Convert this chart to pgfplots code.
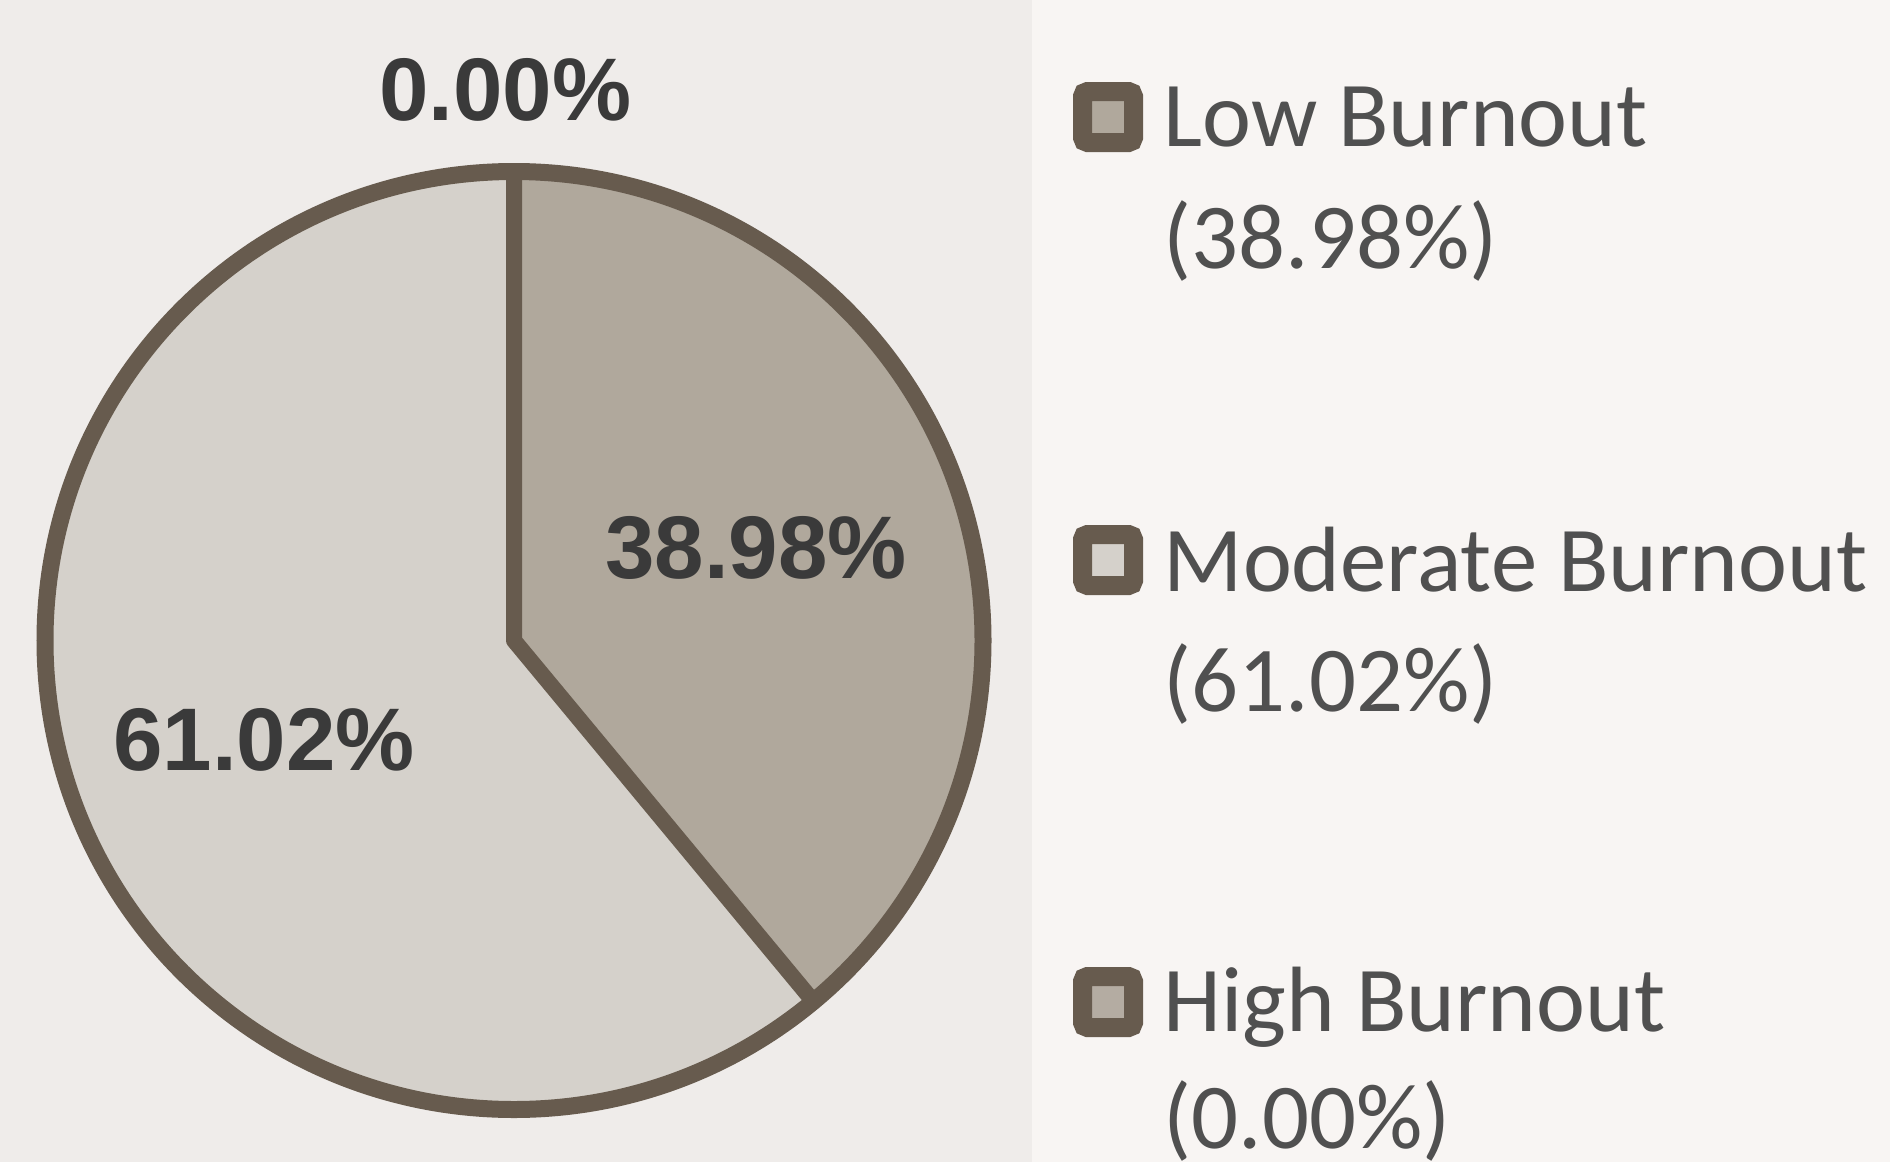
\documentclass[border=0pt]{standalone}
\usepackage{pgfplots}
\pgfplotsset{compat=1.18}
\usepackage{pgfplotstable}
\usepackage{fontspec}
\setmainfont{Liberation Sans}
\newfontfamily\legfont{Carlito}
\definecolor{bgL}{HTML}{EFECEA}
\definecolor{bgR}{HTML}{F8F5F3}
\definecolor{lowc}{HTML}{B0A89C}
\definecolor{modc}{HTML}{D5D1CB}
\definecolor{highc}{HTML}{B4ACA2}
\definecolor{edge}{HTML}{675B4E}
\definecolor{lbl}{HTML}{3A3A3A}
\definecolor{legtxt}{HTML}{505050}

\pgfplotstableread{
label value
Low 38.98
Moderate 61.02
High 0.00
}\piedata

\begin{document}
\begin{tikzpicture}
\useasboundingbox (0,0) rectangle (189mm,116.2mm);
\clip (0,0) rectangle (189mm,116.2mm);
\fill[bgL] (0,0) rectangle (103.2mm,116.2mm);
\fill[bgR] (103.2mm,0) rectangle (189mm,116.2mm);
\pgfplotstablegetelem{0}{value}\of\piedata \let\vLow\pgfplotsretval
\pgfplotstablegetelem{1}{value}\of\piedata \let\vMod\pgfplotsretval
\pgfplotstablegetelem{2}{value}\of\piedata \let\vHigh\pgfplotsretval
\pgfmathsetmacro\aA{90-3.6*\vLow}
\pgfmathsetmacro\aB{\aA-3.6*\vMod}
\begin{axis}[at={(51.4mm,52.15mm)}, anchor=origin, x=46.9mm, y=46.9mm,
  xmin=-1.1, xmax=1.1, ymin=-1.1, ymax=1.1, hide axis, clip=false]
\fill[lowc] (axis cs:0,0) -- (axis cs:0,1) arc[start angle=90,end angle=\aA,radius=46.9mm] -- cycle;
\fill[modc] (axis cs:0,0) -- (axis cs:{cos(\aA)},{sin(\aA)}) arc[start angle=\aA,end angle=\aB,radius=46.9mm] -- cycle;
\draw[edge, line width=1.7mm] (axis cs:0,0) circle[radius=46.9mm];
\draw[edge, line width=1.6mm, line join=round] (axis cs:0,1) -- (axis cs:0,0) -- (axis cs:{cos(\aA)},{sin(\aA)});
\node[lbl, inner sep=0, font=\fontsize{25.3}{30}\selectfont\bfseries] at (axis cs:0.516,0.198) {\vLow\%};
\node[lbl, inner sep=0, font=\fontsize{25.3}{30}\selectfont\bfseries] at (axis cs:-0.533,-0.212) {\vMod\%};
\node[lbl, inner sep=0, font=\fontsize{25.3}{30}\selectfont\bfseries] at (axis cs:-0.019,1.174) {\vHigh\%};
\end{axis}
% legend
\foreach \cy/\col in {104.5/lowc, 60.2/modc, 16.0/highc}{
  \filldraw[fill=\col, draw=edge, line width=1.9mm, rounded corners=0.5mm]
    (110.8mm-2.55mm,\cy mm-2.55mm) rectangle (110.8mm+2.55mm,\cy mm+2.55mm);
}
\begin{scope}[every node/.style={anchor=base west, inner sep=0, text=legtxt, font=\legfont\fontsize{26.4}{30}\selectfont}]
\node at (116.3mm,101.6mm) {Low Burnout};
\node at (116.3mm,89.4mm) {(38.98\%)};
\node at (116.3mm,57.1mm) {Moderate Burnout};
\node at (116.3mm,45.1mm) {(61.02\%)};
\node at (116.3mm,13.1mm) {High Burnout};
\node at (116.3mm,1.4mm) {(0.00\%)};
\end{scope}
\end{tikzpicture}
\end{document}
